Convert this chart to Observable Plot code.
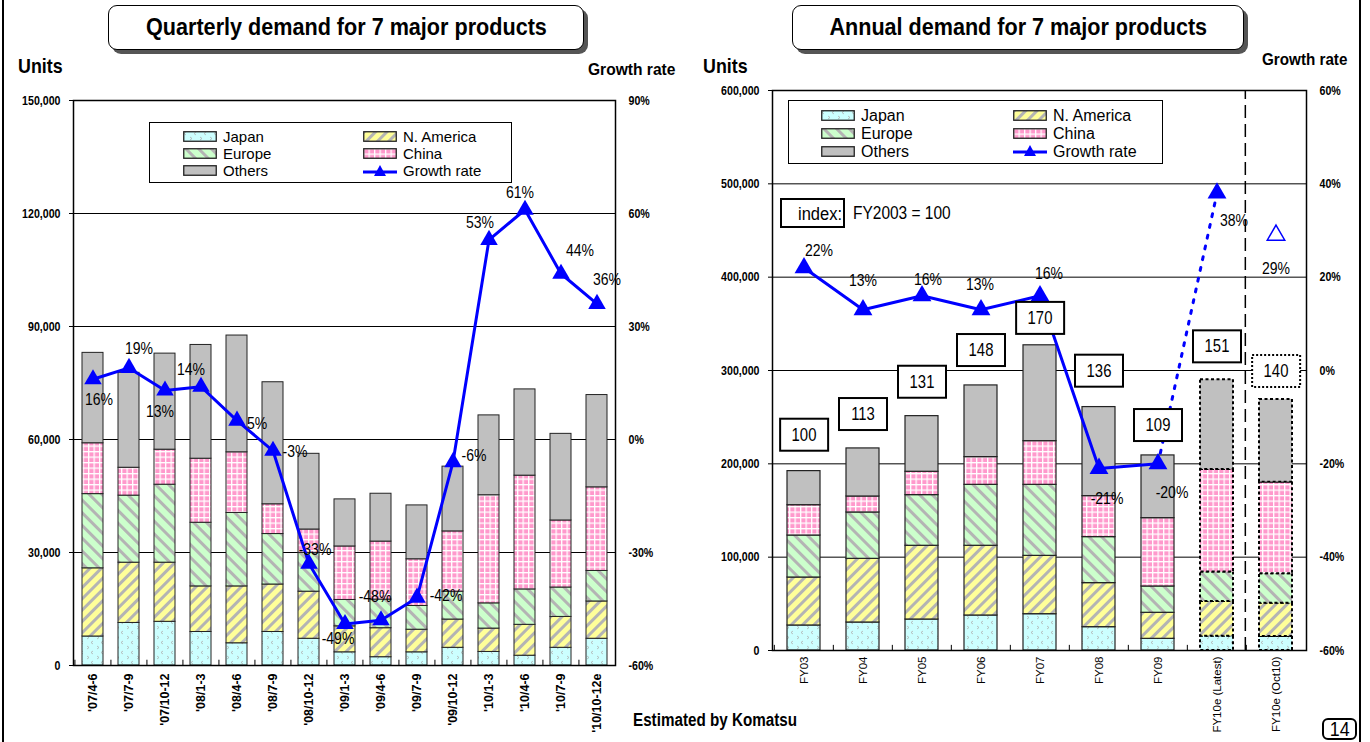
<!DOCTYPE html>
<html><head><meta charset="utf-8">
<script src="https://cdn.jsdelivr.net/npm/d3@7"></script>
<script src="https://cdn.jsdelivr.net/npm/@observablehq/plot@0.6"></script>
<style>
body{margin:0;width:1370px;height:742px;position:relative;overflow:hidden;background:#fff;
 font-family:"Liberation Sans",Arial,sans-serif;color:#000;}
.chart{position:absolute;top:0;z-index:1;}
.ov{position:absolute;z-index:3;white-space:nowrap;}
.n{display:inline-block;transform:scaleX(0.85);transform-origin:0 50%;white-space:nowrap;}
.title{position:absolute;z-index:3;box-sizing:border-box;border:1.5px solid #000;border-radius:9px;box-shadow:4px 4px 0 #555;
 background:#fff;font-weight:bold;font-size:23px;display:flex;align-items:center;justify-content:center;}
.title .n{transform-origin:50% 50%;}
.vline{position:absolute;top:0;width:2px;height:742px;background:#000;z-index:3;}
.legend{position:absolute;z-index:3;box-sizing:border-box;border:1.5px solid #000;background:#fff;}
.li{position:absolute;display:flex;align-items:center;line-height:15px;height:16px;}
.li svg{margin-right:6px;flex:none;}
.li span{white-space:nowrap;}
.bold{font-weight:bold;}
</style></head>
<body>
<svg width="0" height="0" style="position:absolute">
 <defs>
  <pattern id="pJapan" patternUnits="userSpaceOnUse" width="10" height="10">
   <rect width="10" height="10" fill="#ccffff"/>
   <path d="M3 1 L1 2.5 L3 4 M7 6 L9 7.5 L7 9" stroke="#b0b0b0" stroke-width="0.8" fill="none"/>
  </pattern>
  <pattern id="pNA" patternUnits="userSpaceOnUse" width="8" height="8" patternTransform="rotate(45)">
   <rect width="8" height="8" fill="#ffff99"/>
   <rect width="3" height="8" fill="#b4b4b4"/>
  </pattern>
  <pattern id="pEU" patternUnits="userSpaceOnUse" width="9" height="9" patternTransform="rotate(-45)">
   <rect width="9" height="9" fill="#ccffcc"/>
   <rect width="3" height="9" fill="#b4b4b4"/>
  </pattern>
  <pattern id="pCN" patternUnits="userSpaceOnUse" width="5.5" height="5.5">
   <rect width="5.5" height="5.5" fill="#ff99cc"/>
   <rect width="1.3" height="5.5" fill="#ffffff"/>
   <rect width="5.5" height="1.3" fill="#ffffff"/>
  </pattern>
 </defs>
</svg>

<div class="vline" style="left:2px"></div>
<div class="vline" style="left:1359px"></div>

<div class="title" style="left:108px;top:5px;width:476px;height:45px;"><span class="n" data-w="401">Quarterly demand for 7 major products</span></div>
<div class="title" style="left:792px;top:5px;width:452px;height:45px;"><span class="n" data-w="378">Annual demand for 7 major products</span></div>

<div class="ov bold" style="left:18px;top:54px;font-size:21px;"><span class="n" data-w="45">Units</span></div>
<div class="ov bold" style="left:588px;top:60px;font-size:17px;"><span class="n" data-w="87">Growth rate</span></div>
<div class="ov bold" style="left:703px;top:54px;font-size:21px;"><span class="n" data-w="45">Units</span></div>
<div class="ov bold" style="left:1262px;top:50px;font-size:17px;"><span class="n" data-w="85">Growth rate</span></div>

<div id="legL" class="legend" style="left:149px;top:122px;width:363px;height:61px;font-size:15px;"></div>
<div id="legR" class="legend" style="left:788px;top:100px;width:375px;height:64px;font-size:16px;"></div>

<div class="ov" style="left:780px;top:198px;width:65px;height:30px;box-sizing:border-box;border:2px solid #000;background:#fff;font-size:18px;"><span class="n" data-w="44" style="position:absolute;left:16px;top:4px;">index:</span></div>
<div class="ov" style="left:853px;top:203px;font-size:18px;"><span class="n" data-w="98">FY2003 = 100</span></div>

<div class="ov bold" style="left:633px;top:710px;font-size:18px;"><span class="n" data-w="164">Estimated by Komatsu</span></div>
<div class="ov" style="left:1322px;top:718px;width:35px;height:22px;box-sizing:border-box;border:2px solid #000;border-radius:6px;font-size:21px;display:flex;align-items:center;justify-content:center;"><span class="n" style="transform-origin:50% 50%">14</span></div>

<div id="left" class="chart" style="left:0px;"></div>
<div id="right" class="chart" style="left:690px;"></div>

<script>
// ---------- DATA ----------
const series = ["Japan", "N. America", "Europe", "China", "Others"];

// Quarterly (units)
const qCats = ["'07/4-6","'07/7-9","'07/10-12","'08/1-3","'08/4-6","'08/7-9","'08/10-12","'09/1-3","'09/4-6","'09/7-9","'09/10-12","'10/1-3","'10/4-6","'10/7-9","'10/10-12e"];
const qJapan    = [7700, 11300, 11600, 8900, 5900, 8900, 7100, 3500, 2200, 3500, 4700, 3600, 2600, 4700, 7100];
const qNAmerica = [18100, 16000, 15700, 12100, 15100, 12600, 12500, 6900, 7700, 6000, 7500, 6200, 8200, 8200, 9900];
const qEurope   = [19700, 17800, 20700, 16900, 19500, 13400, 10300, 7000, 7600, 6300, 7400, 6700, 9400, 7800, 8100];
const qChina    = [13500, 7400, 9300, 17000, 16100, 7900, 6200, 14200, 15400, 12400, 16000, 28700, 30200, 17800, 22200];
const qOthers   = [24000, 25200, 25500, 30200, 31000, 32400, 20100, 12500, 12700, 14300, 17200, 21200, 22900, 23000, 24500];
const qGrowth   = [16, 19, 13, 14, 5, -3, -33, -49, -48, -42, -6, 53, 61, 44, 36];
const qYTicks   = [0, 30000, 60000, 90000, 120000, 150000];

// Annual (units)
const aCats = ["FY03","FY04","FY05","FY06","FY07","FY08","FY09","FY10e (Latest)","FY10e (Oct10)"];
const aJapan    = [26800, 30000, 33200, 37500, 38900, 25000, 12500, 15400, 15000];
const aNAmerica = [51400, 68200, 79000, 74700, 62500, 47200, 27900, 37100, 35700];
const aEurope   = [45000, 49700, 54300, 65300, 76100, 49300, 28200, 31500, 31500];
const aChina    = [32500, 17100, 25000, 29700, 46800, 43900, 73200, 110000, 98200];
const aOthers   = [36500, 51500, 59600, 76800, 102700, 95400, 67200, 96100, 88600];
const aGrowth   = [22, 13, 16, 13, 16, -21, -20, 38, 29];
const aIndex    = [100, 113, 131, 148, 170, 136, 109, 151, 140];
const aYTicks   = [0, 100000, 200000, 300000, 400000, 500000, 600000];

// ---------- LAYOUT / STYLE ----------
const FONT = '"Liberation Sans", Arial, sans-serif';
const NARROW = 0.85;
const fills = ["url(#pJapan)", "url(#pNA)", "url(#pEU)", "url(#pCN)", "#c0c0c0"];
const BLUE = "#0000ff";
const qLblDx = [6, 10, -5, -10, 20, 22, 6, -7, -6, 29, 21, -9, -5, 19, 10];
const qLblDy = [20, -19, 21, -17, 3, 1, -14, 15, -24, -2, -6, -17, -17, -23, -24];
const aLblDx = [15, 0, 6, -1, 9, 8, 14, 17, 0];
const aLblDy = [-17, -29, -16, -25, -22, 30, 29, 28, 34];
const aIdxDy = [-36, -34, -34, -35, -27, -36, -30, -33, -28];

function makeLong(cats, arrs) {
  return cats.flatMap((c, i) => series.map((s, k) => ({cat: c, series: s, value: arrs[k][i]})));
}
const qLong = makeLong(qCats, [qJapan, qNAmerica, qEurope, qChina, qOthers]);
const aLong = makeLong(aCats, [aJapan, aNAmerica, aEurope, aChina, aOthers]);

// ---------- LEFT CHART ----------
const qG = g => (g + 60) * 1000;            // growth % -> units position
const qStep = 542 / 15;
const qPts = qCats.map((c, i) => ({cat: c, g: qGrowth[i]}));

const left = Plot.plot({
  width: 690, height: 742,
  marginLeft: 73, marginRight: 75, marginTop: 100, marginBottom: 77,
  style: {background: "transparent", fontFamily: FONT, overflow: "visible"},
  x: {type: "band", domain: qCats, paddingInner: 0.42, paddingOuter: 0.21, axis: null},
  y: {domain: [0, 150000], axis: null},
  color: {type: "ordinal", domain: series, range: fills},
  marks: [
    Plot.ruleY(qYTicks.slice(1, -1), {stroke: "#000", strokeWidth: 1}),
    Plot.ruleX(qCats, {x: d => d, dx: -qStep / 2, y1: 0, y2: 1400, stroke: "#000", strokeWidth: 1}),
    Plot.barY(qLong, {x: "cat", y: "value", fill: "series", stroke: "#222", strokeWidth: 1}),
    Plot.line(qPts, {x: "cat", y: d => qG(d.g), stroke: BLUE, strokeWidth: 3}),
    Plot.dot(qPts, {x: "cat", y: d => qG(d.g), symbol: "triangle", r: 6.5, fill: BLUE}),
    ...qPts.map((p, i) => Plot.text([p], {x: "cat", y: d => qG(d.g), text: d => d.g + "%",
      dx: qLblDx[i], dy: qLblDy[i], fontSize: 16.5, fontFamily: FONT, fill: "#000"})),
    Plot.axisY({ticks: qYTicks, tickFormat: d3.format(","), anchor: "left", tickSize: 4, tickPadding: 9,
      label: null, fontSize: 12.5, fontWeight: "bold", fontFamily: FONT}),
    Plot.axisY({ticks: qYTicks, tickFormat: d => (d / 1000 - 60) + "%", anchor: "right", tickSize: 0, tickPadding: 13,
      label: null, fontSize: 12.5, fontWeight: "bold", fontFamily: FONT}),
    Plot.axisX({tickRotate: -90, tickSize: 0, tickPadding: 8, label: null, fontSize: 12.5, fontWeight: "bold", fontFamily: FONT}),
    Plot.frame({stroke: "#000", strokeWidth: 1.5})
  ]
});
document.getElementById("left").appendChild(left);

// ---------- RIGHT CHART ----------
const aG = g => (g + 60) * 5000;
const aStep = 534 / 9;
const aPts = aCats.map((c, i) => ({cat: c, g: aGrowth[i], idx: aIndex[i],
  total: aJapan[i] + aNAmerica[i] + aEurope[i] + aChina[i] + aOthers[i]}));
const estCats = aCats.slice(7);

const right = Plot.plot({
  width: 680, height: 742,
  marginLeft: 82, marginRight: 64, marginTop: 90, marginBottom: 92,
  style: {background: "transparent", fontFamily: FONT, overflow: "visible"},
  x: {type: "band", domain: aCats, paddingInner: 0.444, paddingOuter: 0.222, axis: null},
  y: {domain: [0, 600000], axis: null},
  color: {type: "ordinal", domain: series, range: fills},
  marks: [
    Plot.ruleY(aYTicks.slice(1, -1), {stroke: "#000", strokeWidth: 1}),
    Plot.ruleX(aCats, {x: d => d, dx: -aStep / 2, y1: 0, y2: 5500, stroke: "#000", strokeWidth: 1}),
    Plot.barY(aLong.filter(d => !estCats.includes(d.cat)), {x: "cat", y: "value", fill: "series", stroke: "#222", strokeWidth: 1.2}),
    Plot.barY(aLong.filter(d => estCats.includes(d.cat)), {x: "cat", y: "value", fill: "series", stroke: "#000", strokeWidth: 2, strokeDasharray: "3,2.5"}),
    Plot.ruleX([aCats[8]], {x: d => d, dx: -aStep / 2 - 1, y1: 0, y2: 600000, stroke: "#000", strokeWidth: 1.5, strokeDasharray: "13,6"}),
    Plot.line(aPts.slice(0, 7), {x: "cat", y: d => aG(d.g), stroke: BLUE, strokeWidth: 3}),
    Plot.line(aPts.slice(6, 8), {x: "cat", y: d => aG(d.g), stroke: BLUE, strokeWidth: 3, strokeDasharray: "3,8"}),
    Plot.dot(aPts.slice(0, 8), {x: "cat", y: d => aG(d.g), symbol: "triangle", r: 7, fill: BLUE}),
    Plot.dot(aPts.slice(8), {x: "cat", y: d => aG(d.g), symbol: "triangle", r: 6.5, fill: "#fff", stroke: BLUE, strokeWidth: 1.5}),
    ...aPts.map((p, i) => Plot.text([p], {x: "cat", y: d => aG(d.g), text: d => d.g + "%",
      dx: aLblDx[i], dy: aLblDy[i], fontSize: 16.5, fontFamily: FONT, fill: "#000"})),
    ...aPts.map((p, i) => Plot.text([p], {x: "cat", y: "total", text: d => String(d.idx),
      dy: aIdxDy[i], fontSize: 17.5, fontFamily: FONT, fill: "#000"})),
    Plot.axisY({ticks: aYTicks, tickFormat: d3.format(","), anchor: "left", tickSize: 4, tickPadding: 9,
      label: null, fontSize: 12.5, fontWeight: "bold", fontFamily: FONT}),
    Plot.axisY({ticks: aYTicks, tickFormat: d => (d / 5000 - 60) + "%", anchor: "right", tickSize: 0, tickPadding: 13,
      label: null, fontSize: 12.5, fontWeight: "bold", fontFamily: FONT}),
    Plot.axisX({tickRotate: -90, tickSize: 0, tickPadding: 6, label: null, fontSize: 11.5, fontFamily: FONT}),
    Plot.frame({stroke: "#000", strokeWidth: 1.5})
  ]
});
document.getElementById("right").appendChild(right);

// boxes behind index labels
const idxStr = aIndex.map(String);
right.querySelectorAll("text").forEach(t => {
  const g = t.parentNode;
  if (g.getAttribute("aria-label") !== "text") return;
  const k = idxStr.indexOf(t.textContent.trim());
  if (k < 0) return;
  const bb = t.getBBox();
  const r = document.createElementNS("http://www.w3.org/2000/svg", "rect");
  r.setAttribute("x", bb.x + bb.width / 2 - 24);
  r.setAttribute("y", bb.y + bb.height / 2 - 16);
  r.setAttribute("width", 48);
  r.setAttribute("height", 32);
  r.setAttribute("fill", "#fff");
  r.setAttribute("stroke", "#000");
  r.setAttribute("stroke-width", 2);
  if (k === 8) r.setAttribute("stroke-dasharray", "2,2");
  if (t.getAttribute("transform")) r.setAttribute("transform", t.getAttribute("transform"));
  g.insertBefore(r, t);
});

// narrow (Arial Narrow-like) rendering of chart texts, except the x tick labels
function narrow(svg) {
  svg.querySelectorAll("text").forEach(t => {
    if (t.parentNode.getAttribute("aria-label") === "x-axis tick label") return;
    let tr = t.getAttribute("transform") || "";
    const x = t.getAttribute("x");
    if (x) { tr += ` translate(${x},0)`; t.removeAttribute("x"); }
    t.setAttribute("transform", `${tr} scale(${NARROW},1)`);
  });
}
narrow(left);
narrow(right);

// ---------- LEGENDS ----------
function swatch(fill) {
  return `<svg width="34" height="11"><rect x="0.75" y="0.75" width="32.5" height="9.5" fill="${fill}" stroke="#222" stroke-width="1.3"/></svg>`;
}
const growthSw = `<svg width="34" height="14"><line x1="0" y1="8" x2="34" y2="8" stroke="${BLUE}" stroke-width="3"/><path d="M17 1 L23 12 L11 12 Z" fill="${BLUE}"/></svg>`;
function buildLegend(id, col1x, col2x, rows) {
  const el = document.getElementById(id);
  const items = series.map((s, k) => ({label: s, sw: swatch(fills[k])}));
  items.push({label: "Growth rate", sw: growthSw});
  const pos = [[col1x, rows[0]], [col2x, rows[0]], [col1x, rows[1]], [col2x, rows[1]], [col1x, rows[2]], [col2x, rows[2]]];
  items.forEach((it, i) => {
    const d = document.createElement("div");
    d.className = "li";
    d.style.left = pos[i][0] + "px";
    d.style.top = (pos[i][1] - 8) + "px";
    d.innerHTML = it.sw + `<span>${it.label}</span>`;
    el.appendChild(d);
  });
}
buildLegend("legL", 33, 213, [13.5, 30.5, 47.5]);
buildLegend("legR", 32, 224, [14, 32, 50]);

// fit overlay texts to the reference widths
document.querySelectorAll(".n[data-w]").forEach(s => {
  const w = s.offsetWidth;
  if (w > 0) s.style.transform = `scaleX(${(+s.dataset.w / w).toFixed(3)})`;
});
</script>
</body></html>
